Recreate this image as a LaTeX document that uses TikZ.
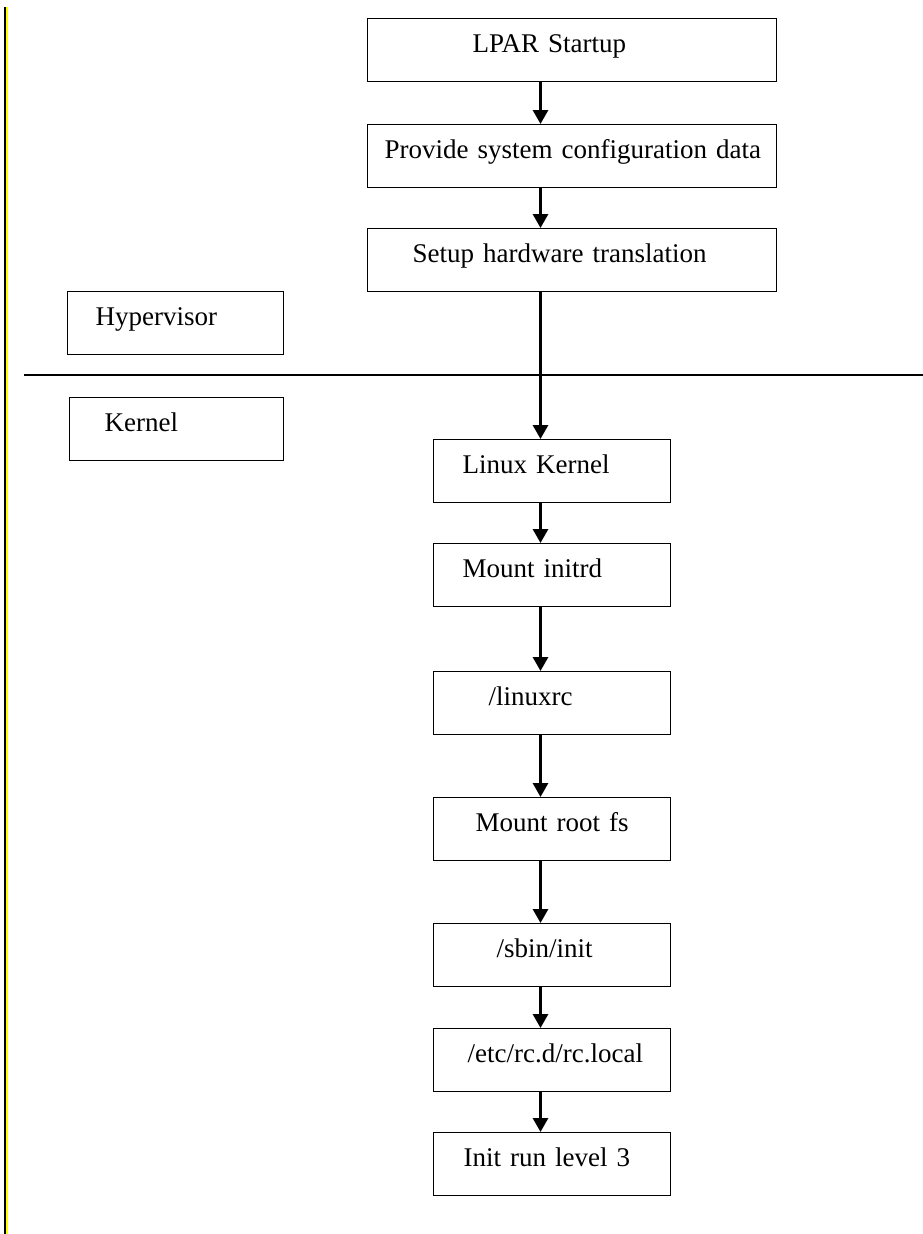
\documentclass[tikz,border=0pt]{standalone}
\usepackage{fontspec}
\setmainfont{Liberation Serif}
\usetikzlibrary{arrows.meta}
\definecolor{bar_yellow}{HTML}{FFFF00}

\begin{document}
\begin{tikzpicture}[
    x=1pt, y=-1pt,
    font=\fontsize{27}{32}\selectfont,
    stage/.style={draw, line width=1.3pt, anchor=north west, inner sep=0pt,
        text width=#1, align=left, text height=34pt, text depth=29pt},
    flow/.style={-{Triangle[length=14pt, width=15pt]}, line width=3pt}
]
\useasboundingbox (0, 0) rectangle (923, 1234);

% ---------------------------------------------------------------
%  Randleiste links und Trennlinie Hypervisor / Kernel
% ---------------------------------------------------------------
\fill[black] (4, 7) rectangle (6, 1234);
\fill[bar_yellow] (6, 7) rectangle (8, 1234);
\coordinate (divL) at (24, 375);
\coordinate (divR) at (923, 375);
\draw[line width=1.5pt] (divL) -- (divR);

% Hypervisor-Schritte
\node[stage=409pt] (lpar) at (367, 18) {\hspace*{105pt}LPAR Startup};
\node[stage=409pt] (cfg) at (367, 124) {\hspace*{17pt}Provide system configuration data};
\node[stage=409pt] (xlat) at (367, 228) {\hspace*{45pt}Setup hardware translation};

% Bereichsnamen
\node[stage=216pt] (hyp) at (67, 291) {\hspace*{28pt}Hypervisor};
\node[stage=214pt] (kern) at (69, 397) {\hspace*{35pt}Kernel};

% Kernel-Schritte
\node[stage=237pt] (linux) at (433, 439) {\hspace*{29pt}Linux Kernel};
\node[stage=237pt] (initrd) at (433, 543) {\hspace*{29pt}Mount initrd};
\node[stage=237pt] (linuxrc) at (433, 671) {\hspace*{55pt}/linuxrc};
\node[stage=237pt] (rootfs) at (433, 797) {\hspace*{42pt}Mount root fs};
\node[stage=237pt] (sbin) at (433, 923) {\hspace*{63pt}/sbin/init};
\node[stage=237pt] (rclocal) at (433, 1028) {\hspace*{34pt}/etc/rc.d/rc.local};
\node[stage=237pt] (runlvl) at (433, 1132) {\hspace*{30pt}Init run level 3};

% Pfeile
\coordinate (axis) at (540.5, 0);
\foreach \a/\b in {lpar/cfg, cfg/xlat, xlat/linux, linux/initrd, initrd/linuxrc,
    linuxrc/rootfs, rootfs/sbin, sbin/rclocal, rclocal/runlvl}
    \draw[flow] (\a.south -| axis) -- (\b.north -| axis);

\end{tikzpicture}
\end{document}
